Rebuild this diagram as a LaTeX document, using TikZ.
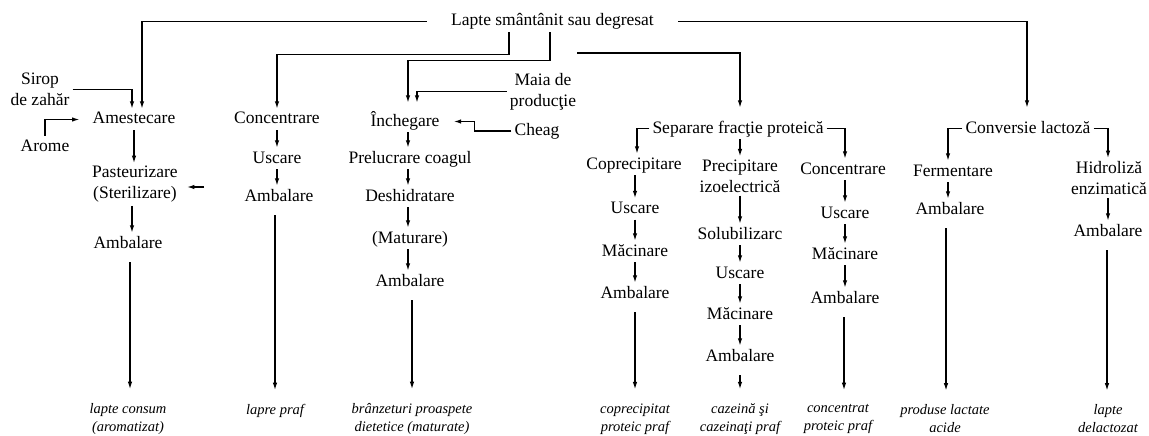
\documentclass[tikz,border=0pt]{standalone}
\usepackage{fontspec}
\setmainfont{Liberation Serif}
\usetikzlibrary{arrows.meta}
\begin{document}
\begin{tikzpicture}[x=1pt,y=-1pt,
  every node/.style={font=\fontsize{17.5}{21}\selectfont, inner sep=3pt},
  stage/.style={text height=12pt, text depth=3pt},
  multi/.style={align=center},
  product/.style={align=center, font=\fontsize{14.5}{18}\selectfont\itshape},
  arr/.style={line width=1.3pt, -{Latex[length=7.5pt,width=4.5pt]}},
  longarr/.style={arr, shorten <=8pt, shorten >=11pt}]
\useasboundingbox (0,0) rectangle (1149,436);

% source
\node[stage, inner xsep=24pt] (lapte) at (552.5,21.5) {Lapte smântânit sau degresat};

% column 1: milk for consumption
\node[multi] (sirop) at (40,89.5) {Sirop\\de zahăr};
\node[stage] (arome) at (45,146.5) {Arome};
\node[stage] (amest) at (134,119.5) {Amestecare};
\node[multi] (past) at (135,184.5) {Pasteurizare\\(Sterilizare)};
\node[stage] (amb0) at (128,243.5) {Ambalare};
\node[product] (L1) at (128,419) {lapte consum\\(aromatizat)};
\coordinate (pin) at (204,187);

% column 2: milk powder
\node[stage] (conc1) at (277,119.5) {Concentrare};
\node[stage] (usc1) at (277,158.5) {Uscare};
\node[stage] (amb1) at (279,196.5) {Ambalare};
\node[product] (L2) at (275,411) {lapre praf};

% column 3: cheese
\node[multi] (maia) at (543,91.5) {Maia de\\producţie};
\node[stage] (cheag) at (537,131) {Cheag};
\node[stage] (inch) at (405,121.5) {Închegare};
\node[stage] (prel) at (410,158.5) {Prelucrare coagul};
\node[stage] (desh) at (410,196.5) {Deshidratare};
\node[stage] (matur) at (410,238.5) {(Maturare)};
\node[stage] (amb3) at (410,281.5) {Ambalare};
\node[product] (L3) at (412,419) {brânzeturi proaspete\\dietetice (maturate)};

% protein fraction
\coordinate (sepstart) at (577,53);
\node[stage] (separ) at (738,128.5) {Separare fracţie proteică};
\node[stage] (copre) at (634,164.5) {Coprecipitare};
\node[stage] (usc4) at (635,209) {Uscare};
\node[stage] (mac4) at (635,251.5) {Măcinare};
\node[stage] (amb4) at (635,293.5) {Ambalare};
\node[product] (L4) at (635,419) {coprecipitat\\proteic praf};

\node[multi] (precip) at (740,176) {Precipitare\\izoelectrică};
\node[stage] (solub) at (740,234.5) {Solubilizarc};
\node[stage] (usc5) at (740,273.5) {Uscare};
\node[stage] (mac5) at (740,314.5) {Măcinare};
\node[stage] (amb5) at (740,356.5) {Ambalare};
\node[product] (L5) at (740,419) {cazeină şi\\cazeinaţi praf};

\node[stage] (conc6) at (843,169.5) {Concentrare};
\node[stage] (usc6) at (845,213.5) {Uscare};
\node[stage] (mac6) at (845,254.5) {Măcinare};
\node[stage] (amb6) at (845,298.5) {Ambalare};
\node[product] (L6) at (838,419) {concentrat\\proteic praf};

% lactose conversion
\node[stage] (convers) at (1028,128.5) {Conversie lactoză};
\node[stage] (ferm) at (953,171.5) {Fermentare};
\node[stage] (amb7) at (950,209.5) {Ambalare};
\node[product] (L7) at (945,419) {produse lactate\\acide};
\node[multi] (hidro) at (1109,178) {Hidroliză\\enzimatică};
\node[stage] (amb8) at (1108,231.5) {Ambalare};
\node[product] (L8) at (1108,419) {lapte\\delactozat};

% distribution of the skimmed milk
\draw[arr] (lapte.west) -| ([xshift=8pt]amest.north);
\draw[arr] ([xshift=-43.5pt]lapte.south) -- ++(0,22) -| (conc1.north);
\draw[arr, shorten >=8pt] ([xshift=-2.5pt]lapte.south) -- ++(0,28) -| ([xshift=3pt]inch.north);
\draw[arr, shorten >=10pt] (sepstart) -| ([xshift=2pt]separ.north);
\draw[arr, shorten >=10pt] (lapte.east) -| ([xshift=-1pt]convers.north);

% column 1
\draw[arr] (sirop.east) -| ([xshift=-2pt]amest.north);
\draw[arr, shorten >=10pt] (arome.north) |- (amest.west);
\draw[arr] (amest.south) -- (amest.south |- past.north);
\draw[arr, shorten >=6pt] (pin) -- (pin -| past.east);
\draw[arr] ([xshift=-3pt]past.south) -- ([xshift=-3pt]past.south |- amb0.north);
\draw[longarr] ([xshift=2pt]amb0.south) -- ([xshift=2pt]amb0.south |- L1.north);

% column 2
\draw[arr] (conc1.south) -- (conc1.south |- usc1.north);
\draw[arr] (usc1.south) -- (usc1.south |- amb1.north);
\draw[longarr] ([xshift=-4pt]amb1.south) -- ([xshift=-4pt]amb1.south |- L2.north);

% column 3
\draw[arr, shorten >=8pt] (maia.west) -| ([xshift=12pt]inch.north);
\draw[arr, shorten >=11pt] (cheag.west) -- ++(-37,0) |- (inch.east);
\draw[arr] ([xshift=3pt]inch.south) -- ([xshift=3pt]inch.south |- prel.north);
\draw[arr] ([xshift=-2pt]prel.south) -- ([xshift=-2pt]prel.south |- desh.north);
\draw[arr] ([xshift=-2pt]desh.south) -- ([xshift=-2pt]desh.south |- matur.north);
\draw[arr] ([xshift=-2pt]matur.south) -- ([xshift=-2pt]matur.south |- amb3.north);
\draw[longarr] ([xshift=2pt]amb3.south) -- ([xshift=2pt]amb3.south |- L3.north);

% protein fraction
\draw[arr] (separ.west) -| ([xshift=3pt]copre.north);
\draw[arr] ([xshift=2pt]separ.south) -- ([xshift=2pt]separ.south |- precip.north);
\draw[arr] (separ.east) -| ([xshift=2pt]conc6.north);

\draw[arr] ([xshift=1pt]copre.south) -- ([xshift=1pt]copre.south |- usc4.north);
\draw[arr] (usc4.south) -- (usc4.south |- mac4.north);
\draw[arr] (mac4.south) -- (mac4.south |- amb4.north);
\draw[longarr] (amb4.south) -- (amb4.south |- L4.north);

\draw[arr] (precip.south) -- (precip.south |- solub.north);
\draw[arr] (solub.south) -- (solub.south |- usc5.north);
\draw[arr] (usc5.south) -- (usc5.south |- mac5.north);
\draw[arr] (mac5.south) -- (mac5.south |- amb5.north);
\draw[longarr] (amb5.south) -- (amb5.south |- L5.north);

\draw[arr] ([xshift=2pt]conc6.south) -- ([xshift=2pt]conc6.south |- usc6.north);
\draw[arr] (usc6.south) -- (usc6.south |- mac6.north);
\draw[arr] (mac6.south) -- (mac6.south |- amb6.north);
\draw[longarr] ([xshift=-1pt]amb6.south) -- ([xshift=-1pt]amb6.south |- L6.north);

% lactose conversion
\draw[arr] (convers.west) -| ([xshift=-5pt]ferm.north);
\draw[arr] (convers.east) -| ([xshift=-1pt]hidro.north);
\draw[arr] ([xshift=-5pt]ferm.south) -- ([xshift=-5pt]ferm.south |- amb7.north);
\draw[longarr] ([xshift=-4pt]amb7.south) -- ([xshift=-4pt]amb7.south |- L7.north);
\draw[arr] ([xshift=-1pt]hidro.south) -- ([xshift=-1pt]hidro.south |- amb8.north);
\draw[longarr] ([xshift=-1pt]amb8.south) -- ([xshift=-1pt]amb8.south |- L8.north);
\end{tikzpicture}
\end{document}
